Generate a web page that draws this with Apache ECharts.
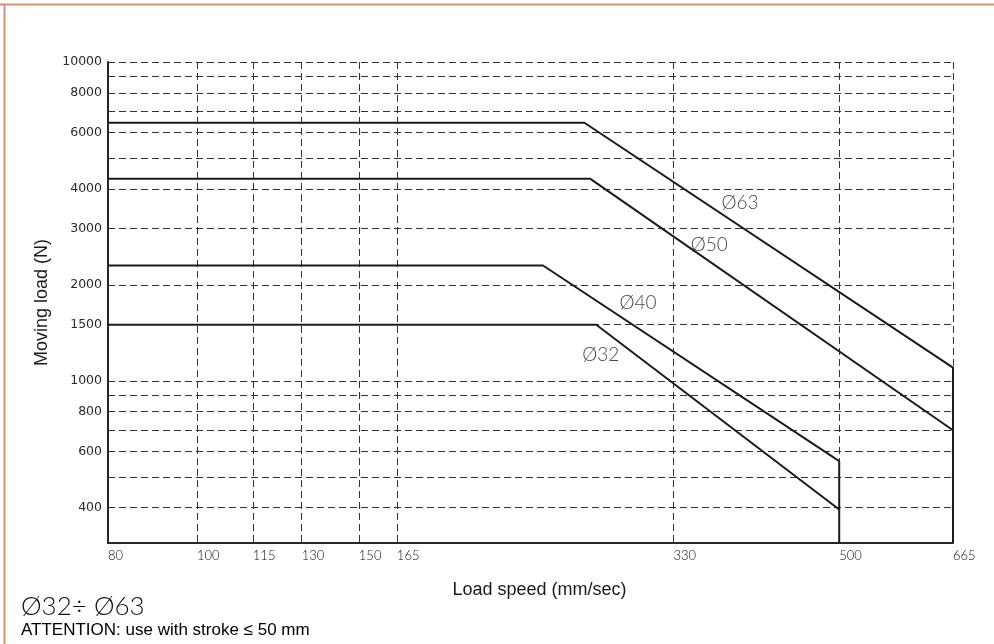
<!DOCTYPE html>
<html>
<head>
<meta charset="utf-8">
<title>Moving load vs load speed</title>
<script src="https://cdn.jsdelivr.net/npm/echarts@6/dist/echarts.min.js"></script>
<style>
  html, body { margin: 0; padding: 0; background: #fff; }
  #chart { width: 994px; height: 644px; }
</style>
</head>
<body>
<div id="chart"></div>
<script>
// axis ranges
const speedMin = 80
const speedMax = 665
const loadMin = 310
const loadMax = 10000

// tick / grid values
const speedTicks = [80, 100, 115, 130, 150, 165, 330, 500, 665]
const loadGrid = [400, 500, 600, 700, 800, 900, 1000, 1500, 2000, 3000, 4000, 5000, 6000, 7000, 8000, 9000, 10000]
const loadLabels = [400, 600, 800, 1000, 1500, 2000, 3000, 4000, 6000, 8000, 10000]

// curves: [speed mm/s, load N]
const bore63 = [[80, 6450], [264, 6450], [665, 1100], [665, 310]]
const bore50 = [[80, 4300], [268, 4300], [665, 700]]
const bore40 = [[80, 2300], [238, 2300], [500, 560], [500, 310]]
const bore32 = [[80, 1500], [272, 1500], [500, 395]]

// curve names and where they are written
const curveNames = ['Ø63', 'Ø50', 'Ø40', 'Ø32']
const curveTags = [[390, 3614, 'Ø63'], [361, 2669, 'Ø50'], [302, 1756, 'Ø40'], [275, 1206, 'Ø32']]

const chart = echarts.init(document.getElementById('chart'))

const thinFont = 'Lato'
const lineStyle = { color: '#1c1a18', width: 2 }
const gridLine = { show: true, lineStyle: { color: '#333', type: [7, 4], width: 1 } }

function curve(name, data) {
  return {
    name: name,
    type: 'line',
    data: data,
    symbol: 'none',
    smooth: false,
    lineStyle: lineStyle,
    z: 5,
    animation: false
  }
}

chart.setOption({
  animation: false,
  grid: { left: 108, right: 41, top: 62, bottom: 101 },
  xAxis: {
    type: 'log',
    min: speedMin,
    max: speedMax,
    name: 'Load speed (mm/sec)',
    nameLocation: 'middle',
    nameGap: 38,
    nameTextStyle: { fontFamily: 'Liberation Sans', fontSize: 18, color: '#1a1a1a', padding: [0, 0, 0, 18] },
    axisLine: { show: true, lineStyle: { color: '#2a2622', width: 2 } },
    axisTick: { show: false, customValues: speedTicks },
    axisLabel: {
      customValues: speedTicks,
      formatter: v => String(Math.round(v)),
      align: 'left',
      margin: 6,
      fontFamily: thinFont,
      fontWeight: 300,
      fontSize: 13,
      color: '#111'
    },
    splitLine: gridLine
  },
  yAxis: {
    type: 'log',
    min: loadMin,
    max: loadMax,
    name: 'Moving load (N)',
    nameLocation: 'middle',
    nameGap: 55,
    nameTextStyle: { fontFamily: 'Liberation Sans', fontSize: 18, color: '#1a1a1a' },
    axisLine: { show: true, lineStyle: { color: '#2a2622', width: 2 } },
    axisTick: { show: false, customValues: loadGrid },
    axisLabel: {
      customValues: loadLabels,
      formatter: v => String(Math.round(v)),
      margin: 6,
      fontFamily: 'DejaVu Sans',
      fontSize: 12.5,
      color: '#2a2a2a'
    },
    splitLine: gridLine
  },
  series: [
    curve(curveNames[0], bore63),
    curve(curveNames[1], bore50),
    curve(curveNames[2], bore40),
    curve(curveNames[3], bore32),
    {
      type: 'scatter',
      data: curveTags,
      symbolSize: 0,
      silent: true,
      z: 6,
      label: {
        show: true,
        position: 'inside',
        formatter: p => p.value[2],
        fontFamily: thinFont,
        fontWeight: 300,
        fontSize: 19,
        color: '#111'
      }
    }
  ],
  graphic: [
    { type: 'line', shape: { x1: 0, y1: 4.5, x2: 994, y2: 4.5 }, style: { stroke: '#c99676', lineWidth: 2 } },
    { type: 'line', shape: { x1: 4.5, y1: 4, x2: 4.5, y2: 644 }, style: { stroke: '#c99676', lineWidth: 2 } },
    {
      type: 'text', left: 21, top: 594,
      style: { text: 'Ø32÷ Ø63', fontFamily: thinFont, fontWeight: 300, fontSize: 26, fill: '#111' }
    },
    {
      type: 'text', left: 21, top: 622,
      style: { text: 'ATTENTION: use with stroke ≤ 50 mm', fontFamily: 'Liberation Sans', fontSize: 17, fill: '#000' }
    }
  ]
})
</script>
</body>
</html>
